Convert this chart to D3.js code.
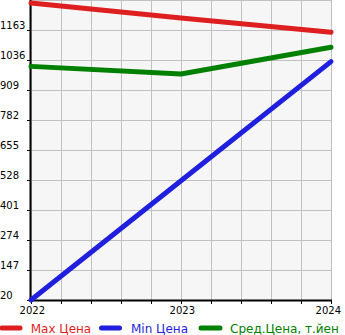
<!DOCTYPE html>
<html><head><meta charset="utf-8">
<script src="https://cdn.jsdelivr.net/npm/d3@7"></script>
<style>html,body{margin:0;padding:0;background:#fff;}svg{display:block;}</style>
</head><body>
<script>
const years = [2022, 2023, 2024];
const maxPrice = [1277, 1214, 1153];
const minPrice = [20, 525, 1029];
const avgPrice = [1009, 977, 1090];
const yTicks = [20, 147, 274, 401, 528, 655, 782, 909, 1036, 1163];
const xLabels = ["2022", "2023", "2024"];
const seriesNames = ["Max Цена", "Min Цена", "Сред.Цена, т.йен"];
const colors = ["#dd1f1f", "#1f1fdd", "#008000"];

const W = 345, H = 335;
const L = 31, R = 331, T = 0, B = 300;
const svg = d3.select("body").append("svg").attr("width", W).attr("height", H);
const x = d3.scaleLinear().domain([2022, 2024]).range([L, R]);
const y = d3.scaleLinear().domain([20, 1290]).range([B, T]);
const font = "DejaVu Sans, sans-serif";

svg.append("rect").attr("x", L).attr("y", T).attr("width", R - L).attr("height", B - T).attr("fill", "#f6f6f6");
const xGrid = d3.range(0, 11).map(i => 2022 + i * 0.2);
svg.append("g").selectAll("line").data(xGrid).join("line")
  .attr("x1", d => Math.round(x(d)) + 0.5).attr("x2", d => Math.round(x(d)) + 0.5)
  .attr("y1", T).attr("y2", B).attr("stroke", "#c0c0c0").attr("stroke-width", 1);
svg.append("g").selectAll("line").data(yTicks.concat([1290])).join("line")
  .attr("x1", L).attr("x2", R)
  .attr("y1", d => Math.round(y(d)) + 0.5).attr("y2", d => Math.round(y(d)) + 0.5)
  .attr("stroke", "#c0c0c0").attr("stroke-width", 1);

// axes
svg.append("line").attr("x1", L - 0.5).attr("x2", L - 0.5).attr("y1", T).attr("y2", B + 1).attr("stroke", "#000").attr("stroke-width", 2);
svg.append("line").attr("x1", L - 1).attr("x2", R + 1).attr("y1", B + 0.5).attr("y2", B + 0.5).attr("stroke", "#000").attr("stroke-width", 2);
svg.append("g").selectAll("line").data(yTicks).join("line")
  .attr("x1", L - 4).attr("x2", L).attr("y1", d => Math.round(y(d)) + 0.5).attr("y2", d => Math.round(y(d)) + 0.5)
  .attr("stroke", "#000");
svg.append("g").selectAll("line").data(xGrid).join("line")
  .attr("x1", d => Math.round(x(d)) + 0.5).attr("x2", d => Math.round(x(d)) + 0.5)
  .attr("y1", B).attr("y2", B + 4).attr("stroke", "#000");

svg.append("g").selectAll("text").data(yTicks).join("text")
  .attr("x", 0).attr("y", d => y(d) - 1)
  .attr("font-family", font).attr("font-size", 10).attr("fill", "#000")
  .text(d => d);
svg.append("g").selectAll("text").data(years).join("text")
  .attr("x", d => x(d)).attr("y", 314)
  .attr("text-anchor", (d, i) => i === years.length - 1 ? "end" : "middle")
  .attr("dx", (d, i) => i === years.length - 1 ? 10 : 1.3)
  .attr("font-family", font).attr("font-size", 10).attr("fill", "#000")
  .text((d, i) => xLabels[i]);

// lines
const line = d3.line().x((d, i) => x(years[i])).y(d => y(d));
[maxPrice, minPrice, avgPrice].forEach((s, k) => {
  svg.append("path").datum(s).attr("d", line).attr("fill", "none")
    .attr("stroke", colors[k]).attr("stroke-width", 5).attr("stroke-linecap", "round").attr("stroke-linejoin", "round");
});

// legend
const legX = [[2, 20, 30.7], [101.5, 119.5, 131], [201, 220, 230]];
seriesNames.forEach((n, k) => {
  svg.append("line").attr("x1", legX[k][0]).attr("x2", legX[k][1]).attr("y1", 328).attr("y2", 328)
    .attr("stroke", colors[k]).attr("stroke-width", 5).attr("stroke-linecap", "round");
  svg.append("text").attr("x", legX[k][2]).attr("y", 332.5)
    .attr("font-family", font).attr("font-size", 12).attr("fill", colors[k]).text(n);
});
</script>
</body></html>
